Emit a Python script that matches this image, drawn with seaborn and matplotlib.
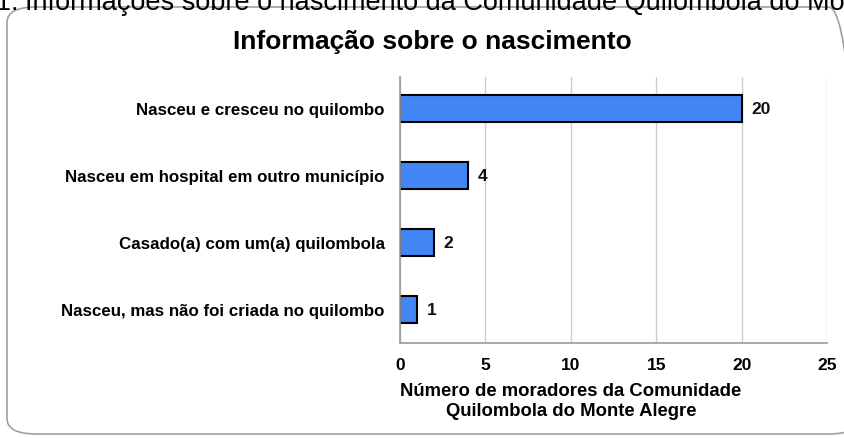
import matplotlib
matplotlib.use("Agg")
import matplotlib.pyplot as plt
import seaborn as sns
import pandas as pd
from matplotlib.patches import FancyBboxPatch

categories = [
    "Nasceu e cresceu no quilombo",
    "Nasceu em hospital em outro município",
    "Casado(a) com um(a) quilombola",
    "Nasceu, mas não foi criada no quilombo",
]
values = [20, 4, 2, 1]
x_ticks = [0, 5, 10, 15, 20, 25]

title = "Informação sobre o nascimento"
xlabel = "Número de moradores da Comunidade\nQuilombola do Monte Alegre"
caption_prefix = "Figura 1:"
caption = "Informações sobre o nascimento da Comunidade Quilombola do Monte Alegre"

sns.set_theme(style="white")
plt.rcParams["font.family"] = ["Liberation Sans", "DejaVu Sans"]

df = pd.DataFrame({"cat": categories, "val": values})

W, H = 845, 439
fig = plt.figure(figsize=(W / 100, H / 100), dpi=100)
ax = fig.add_axes([400 / W, 1 - 344 / H, 427 / W, (344 - 78) / H])

# rounded frame
box = FancyBboxPatch((7 / W, 4 / H), (858 - 7) / W, (431 - 4) / H,
                     boxstyle="round,pad=0,rounding_size=0.035",
                     transform=fig.transFigure, facecolor="none",
                     edgecolor="#a0a0a0", linewidth=1.2, zorder=0)
fig.patches.append(box)

sns.barplot(data=df, y="cat", x="val", orient="h", color="#4285f4",
            edgecolor="black", linewidth=1.5, width=0.4, saturation=1, ax=ax)

ax.set_xlim(0, 25)
ax.set_ylim(3.5, -0.47)
ax.set_xticks(x_ticks)
ax.set_xticklabels([str(t) for t in x_ticks], fontsize=12.5, fontweight="bold",
                   color="black")
ax.set_yticklabels(categories, fontsize=12.2, fontweight="bold", color="black")
ax.tick_params(axis="both", length=0)
ax.tick_params(axis="x", pad=10)
ax.tick_params(axis="y", pad=11)
ax.set_ylabel("")
ax.set_xlabel(xlabel, fontsize=13.3, fontweight="bold", linespacing=1.2,
              color="black")
ax.xaxis.set_label_coords(0.40, -0.148)
ax.xaxis.label.set_va("top")

ax.grid(axis="x", color="#cccccc", linewidth=1)
ax.set_axisbelow(True)
for s in ["top", "right"]:
    ax.spines[s].set_visible(False)
for s in ["left", "bottom"]:
    ax.spines[s].set_color("#999999")
    ax.spines[s].set_linewidth(1.2)

for i, v in enumerate(values):
    ax.text(v + 0.55, i, str(v), va="center", ha="left",
            fontsize=12.5, fontweight="bold", color="#111111")

fig.text(432 / W, 1 - 42 / H, title, ha="center", va="center",
         fontsize=19, fontweight="bold", color="black")

fig.text(19 / W, 1 - 10 / H, caption_prefix, ha="right", va="baseline",
         fontsize=19.5, color="black")
fig.text(25 / W, 1 - 10 / H, caption, ha="left", va="baseline",
         fontsize=19.5, color="black")

fig.savefig("out.png", dpi=100)
